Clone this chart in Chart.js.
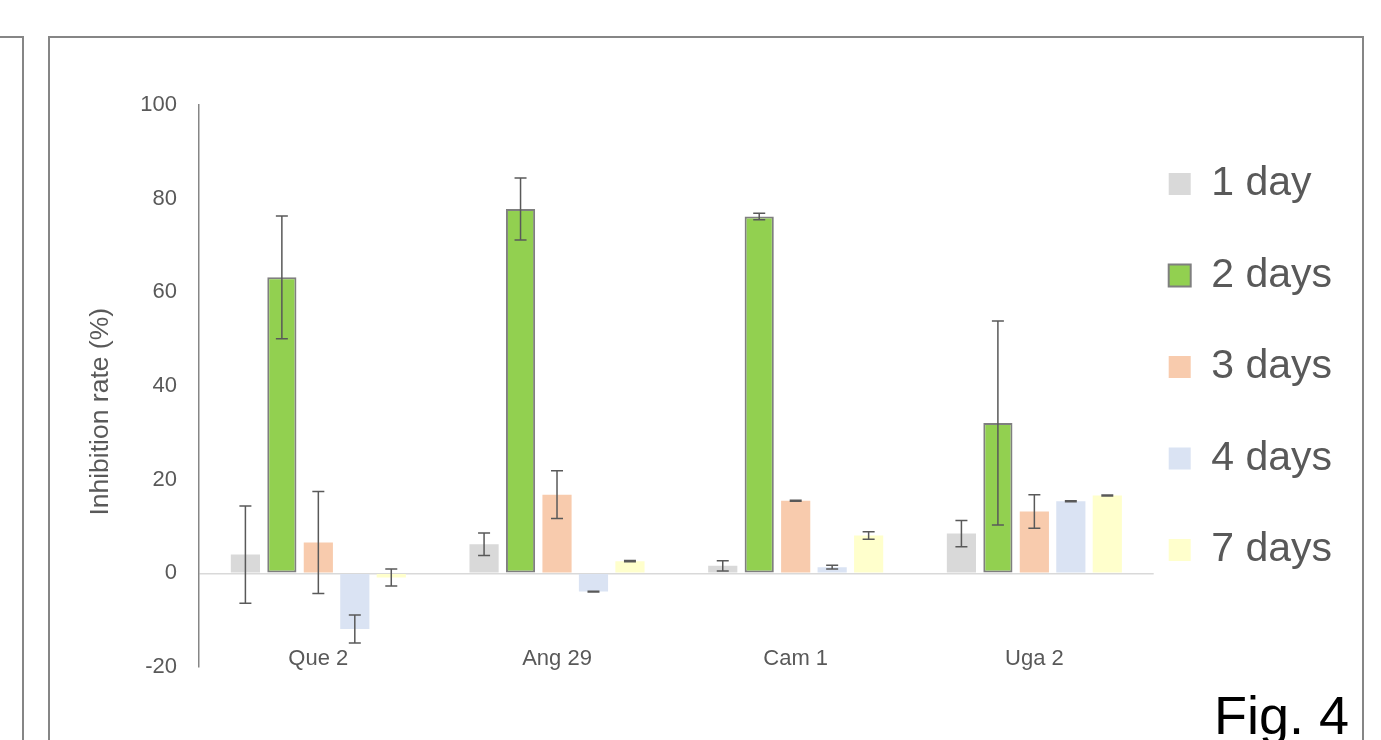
<!DOCTYPE html>
<html>
<head>
<meta charset="utf-8">
<script src="https://cdn.jsdelivr.net/npm/chart.js@4.4.1/dist/chart.umd.min.js"></script>
<style>
  body { margin: 0; background: #fff; }
  #page { position: relative; width: 1381px; height: 740px; overflow: hidden; }
  .frame { position: absolute; border: 2px solid #868686; }
  #fig { position: absolute; left: 1214px; top: 688px; font: 54px/54px "Liberation Sans", Arial, sans-serif; color: #000; }
  canvas { position: absolute; left: 0; top: 0; }
</style>
</head>
<body>
<div id="page">
  <div class="frame" style="left:-10px; top:36px; width:30px; height:800px;"></div>
  <div class="frame" style="left:48px; top:36px; width:1312px; height:800px;"></div>
  <canvas id="myChart" width="1381" height="740"></canvas>
  <div id="fig">Fig. 4</div>
</div>
<script>
var categories = ["Que 2", "Ang 29", "Cam 1", "Uga 2"];
var seriesNames = ["1 day", "2 days", "3 days", "4 days", "7 days"];
var day1 = [4.0, 6.2, 1.6, 8.5];
var day2 = [63.2, 77.8, 76.2, 32.1];
var day3 = [6.6, 16.8, 15.5, 13.2];
var day4 = [-11.9, -3.9, 1.3, 15.4];
var day7 = [-0.9, 2.6, 8.1, 16.6];
var day1Err = [10.4, 2.4, 1.1, 2.8];
var day2Err = [13.1, 6.6, 0.7, 21.8];
var day3Err = [10.9, 5.1, 0.1, 3.6];
var day4Err = [3.0, 0.1, 0.4, 0.1];
var day7Err = [1.8, 0.15, 0.8, 0.1];
var yTicks = [-20, 0, 20, 40, 60, 80, 100];

var textColor = "#595959";
var fontFamily = '"Liberation Sans", Arial, sans-serif';

// error bars drawn from the bar elements and the y scale
var errorBars = {
  id: "errorBars",
  afterDatasetsDraw: function (chart) {
    var ctx = chart.ctx;
    var y = chart.scales.y;
    ctx.save();
    ctx.strokeStyle = "#595959";
    ctx.lineWidth = 1.5;
    chart.data.datasets.forEach(function (ds, i) {
      var meta = chart.getDatasetMeta(i);
      meta.data.forEach(function (bar, j) {
        var v = ds.data[j];
        var e = ds.errors[j];
        var top = y.getPixelForValue(v + e);
        var bot = y.getPixelForValue(v - e);
        var x = bar.x;
        ctx.beginPath();
        ctx.moveTo(x, top);
        ctx.lineTo(x, bot);
        ctx.moveTo(x - 6, top);
        ctx.lineTo(x + 6, top);
        ctx.moveTo(x - 6, bot);
        ctx.lineTo(x + 6, bot);
        ctx.stroke();
      });
    });
    ctx.restore();
  },
};

var ctx = document.getElementById("myChart").getContext("2d");
var myChart = new Chart(ctx, {
  type: "bar",
  data: {
    labels: categories,
    datasets: [
      { label: seriesNames[0], data: day1, errors: day1Err, backgroundColor: "#d9d9d9", borderWidth: 0 },
      { label: seriesNames[1], data: day2, errors: day2Err, backgroundColor: "#92d050", borderColor: "#7f7f7f", borderWidth: 2, borderSkipped: false },
      { label: seriesNames[2], data: day3, errors: day3Err, backgroundColor: "#f8cbad", borderWidth: 0 },
      { label: seriesNames[3], data: day4, errors: day4Err, backgroundColor: "#dae3f3", borderWidth: 0 },
      { label: seriesNames[4], data: day7, errors: day7Err, backgroundColor: "#ffffcc", borderWidth: 0 },
    ],
  },
  options: {
    responsive: false,
    animation: false,
    categoryPercentage: 0.764,
    barPercentage: 0.8,
    layout: { padding: { left: 60, top: 51.5, right: 39, bottom: 22 } },
    plugins: {
      tooltip: { enabled: false },
      title: {
        display: true,
        text: " ",
        padding: { top: 43.5, bottom: 0 },
        font: { size: 10, lineHeight: 1 },
      },
      legend: {
        position: "right",
        align: "center",
        labels: {
          boxWidth: 22,
          boxHeight: 22,
          padding: 15,
          color: textColor,
          font: { family: fontFamily, size: 41, lineHeight: 1.866 },
          generateLabels: function (chart) {
            var items = Chart.defaults.plugins.legend.labels.generateLabels(chart);
            items.forEach(function (it) { it.text = [it.text]; });
            return items;
          },
        },
      },
    },
    scales: {
      x: {
        grid: { display: false, drawTicks: false },
        border: { display: false },
        ticks: { color: textColor, mirror: true, padding: -5, font: { family: fontFamily, size: 22 } },
        afterFit: function (scale) { scale.height = 51; },
      },
      y: {
        min: -20,
        max: 100,
        afterBuildTicks: function (scale) {
          scale.ticks = yTicks.map(function (v) { return { value: v }; });
        },
        afterFit: function (scale) { scale.width = 139; },
        grid: {
          drawTicks: false,
          lineWidth: 1.5,
          color: function (c) { return c.tick && c.tick.value === 0 ? "#d9d9d9" : "rgba(0,0,0,0)"; },
        },
        border: { display: true, color: "#868686", width: 1.5 },
        ticks: { color: textColor, padding: 22, font: { family: fontFamily, size: 22 } },
        title: {
          display: true,
          text: "Inhibition rate (%)       ",
          color: textColor,
          padding: { top: 25, bottom: 0 },
          font: { family: fontFamily, size: 26.5 },
        },
      },
    },
  },
  plugins: [errorBars],
});
</script>
</body>
</html>
